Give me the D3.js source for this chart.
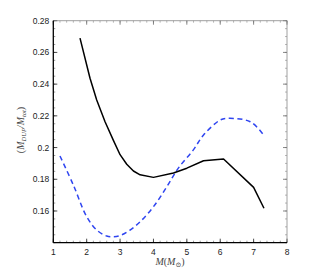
<!DOCTYPE html>
<html><head><meta charset="utf-8">
<script src="https://cdn.jsdelivr.net/npm/d3@7"></script>
<style>body{margin:0;background:#fff}svg{display:block}</style>
</head><body>
<script>
const blackX = [1.80, 2.10, 2.30, 2.55, 2.80, 3.00, 3.20, 3.40, 3.60, 4.00, 4.60, 5.00, 5.50, 6.10, 7.00, 7.31];
const blackY = [0.2690, 0.2437, 0.2300, 0.2163, 0.2045, 0.1955, 0.1895, 0.1852, 0.1828, 0.1812, 0.1840, 0.1870, 0.1917, 0.1928, 0.1749, 0.1617];
const blueX = [1.20, 1.60, 2.00, 2.30, 2.60, 2.80, 3.00, 3.30, 3.60, 4.00, 4.40, 4.74, 5.19, 5.50, 6.00, 6.20, 6.90, 7.30];
const blueY = [0.1947, 0.1764, 0.1564, 0.1480, 0.1442, 0.1438, 0.1445, 0.1480, 0.1532, 0.1627, 0.1753, 0.1869, 0.1984, 0.2079, 0.2174, 0.2184, 0.2163, 0.2079];
const xTicks = [1, 2, 3, 4, 5, 6, 7, 8];
const yTicks = [0.16, 0.18, 0.20, 0.22, 0.24, 0.26, 0.28];
const yTickLabels = ["0.16", "0.18", "0.2", "0.22", "0.24", "0.26", "0.28"];

const W = 317, H = 274;
const m = {l: 53.3, r: 287, t: 20.7, b: 242.7};
const svg = d3.select("body").append("svg").attr("width", W).attr("height", H);
const x = d3.scaleLinear().domain([1, 8]).range([m.l, m.r]);
const y = d3.scaleLinear().domain([0.14, 0.28]).range([m.b, m.t]);

// minor ticks
const xMinor = d3.range(1, 8.001, 0.2);
const yMinor = d3.range(0.14, 0.2801, 0.005);
const g = svg.append("g");
xMinor.forEach(v => {
  g.append("line").attr("x1", x(v)).attr("x2", x(v)).attr("y1", m.b).attr("y2", m.b - 2).attr("stroke", "#555").attr("stroke-width", 0.6);
  g.append("line").attr("x1", x(v)).attr("x2", x(v)).attr("y1", m.t).attr("y2", m.t + 2).attr("stroke", "#888").attr("stroke-width", 0.6);
});
yMinor.forEach(v => {
  g.append("line").attr("y1", y(v)).attr("y2", y(v)).attr("x1", m.l).attr("x2", m.l + 2).attr("stroke", "#555").attr("stroke-width", 0.6);
  g.append("line").attr("y1", y(v)).attr("y2", y(v)).attr("x1", m.r).attr("x2", m.r - 2).attr("stroke", "#888").attr("stroke-width", 0.6);
});
xTicks.forEach(v => {
  g.append("line").attr("x1", x(v)).attr("x2", x(v)).attr("y1", m.b).attr("y2", m.b - 4).attr("stroke", "#222").attr("stroke-width", 0.8);
  g.append("line").attr("x1", x(v)).attr("x2", x(v)).attr("y1", m.t).attr("y2", m.t + 4).attr("stroke", "#666").attr("stroke-width", 0.8);
});
yTicks.forEach(v => {
  g.append("line").attr("y1", y(v)).attr("y2", y(v)).attr("x1", m.l).attr("x2", m.l + 4).attr("stroke", "#222").attr("stroke-width", 0.8);
  g.append("line").attr("y1", y(v)).attr("y2", y(v)).attr("x1", m.r).attr("x2", m.r - 4).attr("stroke", "#666").attr("stroke-width", 0.8);
});

// frame
svg.append("line").attr("x1", m.l).attr("x2", m.r).attr("y1", m.t).attr("y2", m.t).attr("stroke", "#888").attr("stroke-width", 0.8);
svg.append("line").attr("x1", m.r).attr("x2", m.r).attr("y1", m.t).attr("y2", m.b).attr("stroke", "#888").attr("stroke-width", 0.8);
svg.append("line").attr("x1", m.l).attr("x2", m.r).attr("y1", m.b).attr("y2", m.b).attr("stroke", "#000").attr("stroke-width", 1.3);
svg.append("line").attr("x1", m.l).attr("x2", m.l).attr("y1", m.t).attr("y2", m.b).attr("stroke", "#000").attr("stroke-width", 1.3);

// tick labels
const font = "Liberation Sans, Arial, sans-serif";
xTicks.forEach(v => {
  svg.append("text").attr("x", x(v)).attr("y", m.b + 12).attr("text-anchor", "middle")
    .attr("font-family", font).attr("font-size", 8.5).attr("fill", "#222").text(v);
});
yTicks.forEach((v, i) => {
  svg.append("text").attr("x", m.l - 4).attr("y", y(v) + 3).attr("text-anchor", "end")
    .attr("font-family", font).attr("font-size", 8.5).attr("fill", "#222").text(yTickLabels[i]);
});

// lines
const blueLine = d3.line().x(d => x(d[0])).y(d => y(d[1])).curve(d3.curveCatmullRom.alpha(0.5));
svg.append("path").datum(blueX.map((v, i) => [v, blueY[i]]))
  .attr("d", blueLine).attr("fill", "none").attr("stroke", "#2f45f0")
  .attr("stroke-width", 1.5).attr("stroke-dasharray", "5,3.5");
const blackLine = d3.line().x(d => x(d[0])).y(d => y(d[1]));
svg.append("path").datum(blackX.map((v, i) => [v, blackY[i]]))
  .attr("d", blackLine).attr("fill", "none").attr("stroke", "#000")
  .attr("stroke-width", 1.5).attr("stroke-linejoin", "round");

// axis labels
const serif = "Liberation Serif, DejaVu Serif, serif";
const xl = svg.append("text").attr("x", 170).attr("y", 265).attr("text-anchor", "middle")
  .attr("font-family", serif).attr("font-size", 10).attr("fill", "#444");
xl.append("tspan").attr("font-style", "italic").text("M");
xl.append("tspan").text("(");
xl.append("tspan").attr("font-style", "italic").text("M");
xl.append("tspan").attr("font-size", 7).attr("dy", 2).text("⊙");
xl.append("tspan").attr("dy", -2).text(")");

const yl = svg.append("text").attr("transform", "translate(24,130) rotate(-90)").attr("text-anchor", "middle")
  .attr("font-family", serif).attr("font-size", 10).attr("fill", "#444");
yl.append("tspan").text("(");
yl.append("tspan").attr("font-style", "italic").text("M");
yl.append("tspan").attr("font-style", "italic").attr("font-size", 6.5).attr("dy", 2).text("DUP");
yl.append("tspan").attr("font-style", "italic").attr("dy", -2).text("/M");
yl.append("tspan").attr("font-style", "italic").attr("font-size", 6.5).attr("dy", 2).text("tot");
yl.append("tspan").attr("dy", -2).text(")");
</script>
</body></html>
